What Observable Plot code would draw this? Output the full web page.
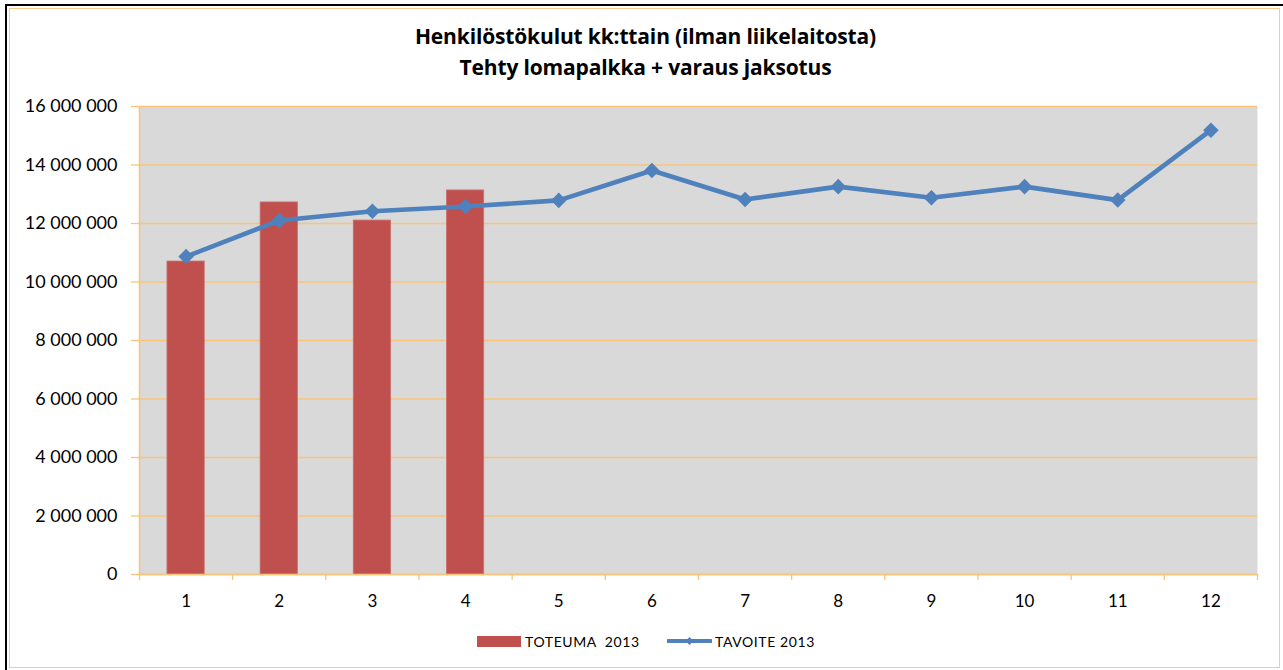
<!DOCTYPE html>
<html>
<head>
<meta charset="utf-8">
<script src="https://cdn.jsdelivr.net/npm/d3@7"></script>
<script src="https://cdn.jsdelivr.net/npm/@observablehq/plot@0.6"></script>
<style>
  html, body { margin: 0; padding: 0; background: #fff; }
  #wrap { position: relative; width: 1283px; height: 670px; overflow: hidden; font-family: Lato, "Open Sans", sans-serif; }
  #black { position: absolute; left: 5px; top: 4px; width: 1300px; height: 700px; border-left: 2px solid #000; border-top: 2px solid #000; box-sizing: border-box; }
  #frame { position: absolute; left: 9px; top: 8px; width: 1271px; height: 660px; border: 1.5px solid #f9c98e; box-sizing: border-box; }
  #title { position: absolute; left: 0; top: 21px; width: 1283px; text-align: center; font-family: "Open Sans", sans-serif; font-weight: bold; font-size: 21px; line-height: 31px; color: #000; padding-left: 8px; box-sizing: border-box; letter-spacing: -0.15px; }
  #chart { position: absolute; left: 0; top: 90px; }
  #legend { position: absolute; top: 632px; left: 0; width: 1283px; height: 20px; font-size: 14px; color: #000; }
  .lg { position: absolute; top: 0; display: flex; align-items: center; height: 18px; }
  .sw-bar { width: 44px; height: 11px; background: #c0504d; margin-right: 4px; }
  .txt { letter-spacing: 0.6px; }
</style>
</head>
<body>
<div id="wrap">
  <div id="black"></div>
  <div id="frame"></div>
  <div id="title">Henkilöstökulut kk:ttain (ilman liikelaitosta)<br>Tehty lomapalkka + varaus jaksotus</div>
  <div id="chart"></div>
  <div id="legend">
    <div class="lg" style="left:477px"><div class="sw-bar"></div><span class="txt">TOTEUMA&nbsp; 2013</span></div>
    <div class="lg" style="left:667px"><svg width="45" height="12" style="margin-right:3px"><line x1="1" y1="6" x2="44" y2="6" stroke="#4f81bd" stroke-width="4" stroke-linecap="round"/><path d="M22.5,2 L26.5,6 L22.5,10 L18.5,6 Z" fill="#4f81bd"/></svg><span class="txt">TAVOITE 2013</span></div>
  </div>
</div>
<script>
const months = [1, 2, 3, 4, 5, 6, 7, 8, 9, 10, 11, 12];
const toteuma = [10700000, 12720000, 12100000, 13130000];
const tavoite = [10870000, 12100000, 12420000, 12580000, 12790000, 13810000, 12820000, 13260000, 12880000, 13260000, 12800000, 15190000];
const yTicks = [0, 2000000, 4000000, 6000000, 8000000, 10000000, 12000000, 14000000, 16000000];

const barData = toteuma.map((v, i) => ({ m: months[i], v }));
const lineData = tavoite.map((v, i) => ({ m: months[i], v }));
const bounds = [0, ...months].map(m => m + 0.5);

const fmt = d3.formatLocale({ decimal: ",", thousands: "\u2009", grouping: [3], currency: ["", ""] }).format(",");
const fmtSp = v => fmt(v).replace(/\u2009/g, " ");

const orange = "#f9c47a";
const halfBar = 0.2;

const chart = Plot.plot({
  width: 1283,
  height: 540,
  marginLeft: 139,
  marginRight: 26,
  marginTop: 16,
  marginBottom: 56,
  style: { fontFamily: "Lato, 'Open Sans', sans-serif", background: "transparent", overflow: "visible" },
  x: { type: "linear", domain: [0.5, 12.5] },
  y: { domain: [0, 16000000] },
  marks: [
    Plot.frame({ fill: "#d9d9d9", stroke: null }),
    Plot.gridY(yTicks, { stroke: orange, strokeOpacity: 1, strokeWidth: 1.3 }),
    Plot.rectY(barData, { x1: d => d.m - halfBar, x2: d => d.m + halfBar, y1: 0, y2: "v", fill: "#c0504d", stroke: "#c9716f", strokeWidth: 0.8 }),
    Plot.ruleX([0.5], { stroke: orange, strokeWidth: 1.5 }),
    Plot.ruleY([0], { stroke: orange, strokeWidth: 1.5 }),
    Plot.axisY(yTicks, { tickFormat: fmtSp, tickSize: 8, tickPadding: 14, stroke: orange, strokeWidth: 1.3, fontSize: 18, fill: "#000", label: null }),
    Plot.axisX(bounds, { tickSize: 6, stroke: orange, strokeWidth: 1.3, tickFormat: () => "", label: null }),
    Plot.axisX(months, { tickSize: 0, tickPadding: 20, fontSize: 17, fill: "#000", tickFormat: d => String(d), label: null }),
    Plot.line(lineData, { x: "m", y: "v", stroke: "#4f81bd", strokeWidth: 4.6, strokeLinejoin: "round" }),
    Plot.dot(lineData, { x: "m", y: "v", symbol: "diamond2", r: 7, fill: "#4f81bd", stroke: null })
  ]
});
document.getElementById("chart").appendChild(chart);
</script>
</body>
</html>
